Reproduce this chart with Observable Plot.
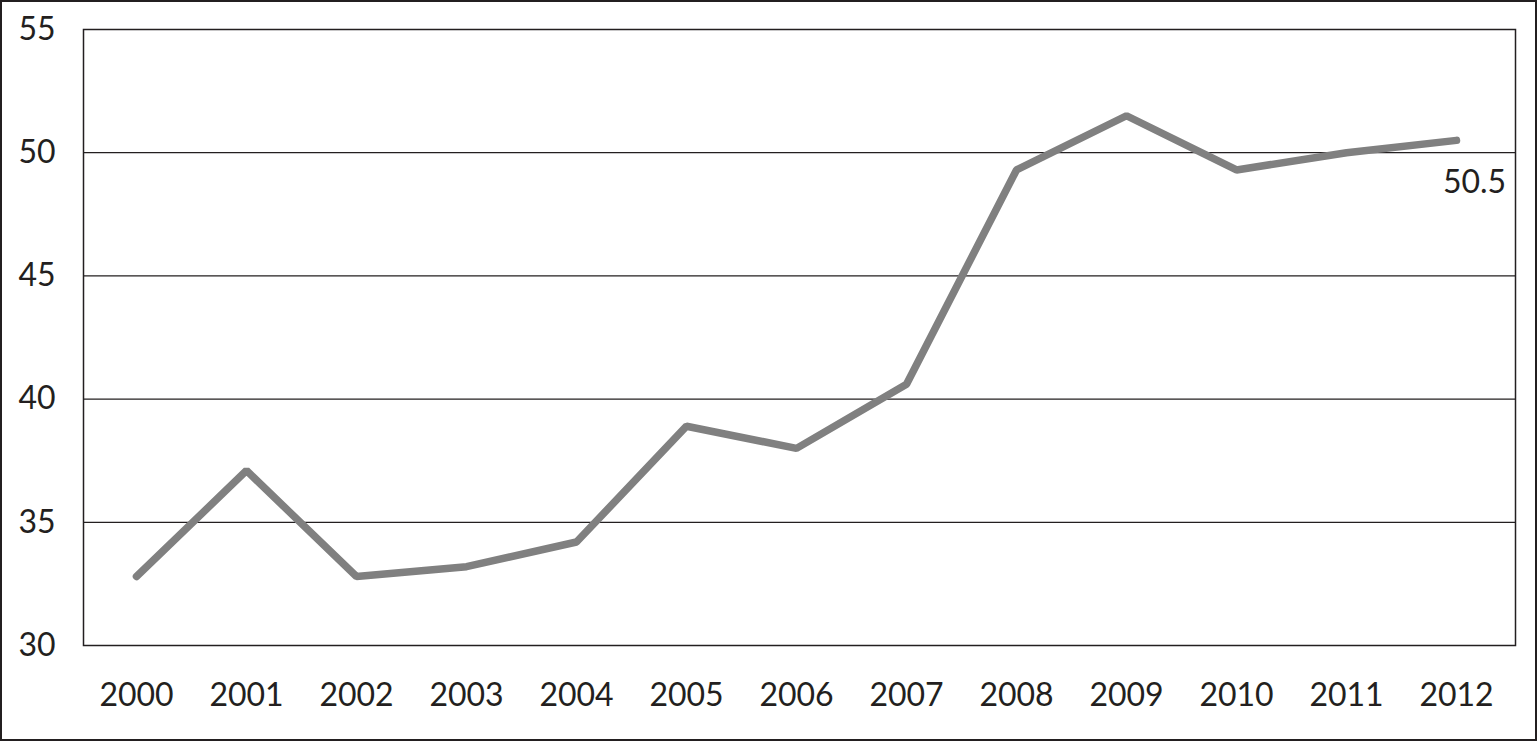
<!DOCTYPE html>
<html>
<head>
<meta charset="utf-8">
<script src="https://cdn.jsdelivr.net/npm/d3@7"></script>
<script src="https://cdn.jsdelivr.net/npm/@observablehq/plot@0.6"></script>
<style>
  html, body { margin: 0; padding: 0; background: #fff; }
  #chart svg { display: block; outline: 2px solid #231f20; outline-offset: -2px; }
</style>
</head>
<body>
<div id="chart"></div>
<script>
const years = ["2000","2001","2002","2003","2004","2005","2006","2007","2008","2009","2010","2011","2012"];
const values = [32.8, 37.1, 32.8, 33.2, 34.2, 38.9, 38.0, 40.6, 49.3, 51.5, 49.3, 50.0, 50.5];
const yTicks = [30, 35, 40, 45, 50, 55];
const endLabel = "50.5";

const data = years.map((y, i) => ({year: y, value: values[i]}));
const last = data[data.length - 1];

const chart = Plot.plot({
  width: 1537,
  height: 741,
  marginLeft: 83,
  marginRight: 22,
  marginTop: 29,
  marginBottom: 96,
  style: {fontFamily: "Lato, sans-serif", fontSize: "32px", color: "#231f20", background: "#fff"},
  x: {type: "point", domain: years, range: [133, 1459], padding: 0, label: null, tickSize: 0, tickPadding: 38},
  y: {domain: [30, 55], ticks: yTicks, label: null, tickSize: 0, tickPadding: 28},
  marks: [
    Plot.ruleY(yTicks.filter(t => t > 30 && t < 55), {stroke: "#231f20", strokeWidth: 1.2}),
    Plot.frame({stroke: "#231f20", strokeWidth: 1.5}),
    Plot.line(data, {x: "year", y: "value", stroke: "#808080", strokeWidth: 7.5, strokeLinejoin: "miter", strokeLinecap: "round"}),
    Plot.text([last], {x: "year", y: "value", text: () => endLabel, dx: 18, dy: 42, fill: "#231f20", fontSize: 32, textAnchor: "middle"})
  ]
});
document.getElementById("chart").appendChild(chart);
</script>
</body>
</html>
